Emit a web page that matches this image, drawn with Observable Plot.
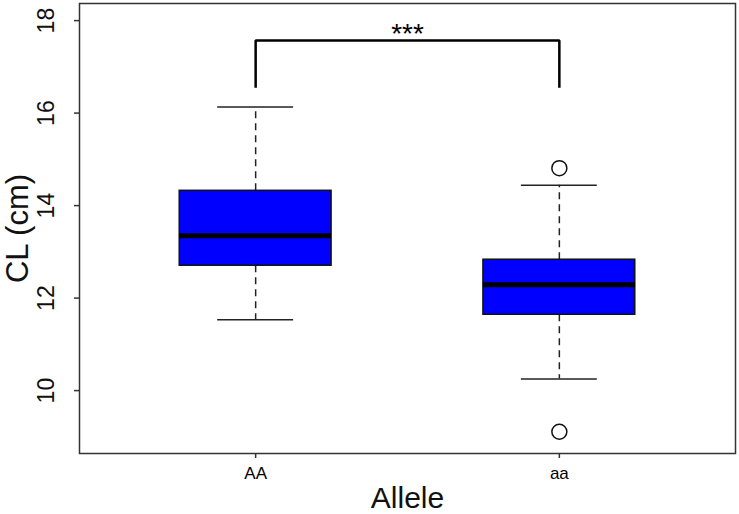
<!DOCTYPE html>
<html>
<head>
<meta charset="utf-8">
<script src="https://cdn.jsdelivr.net/npm/d3@7"></script>
<script src="https://cdn.jsdelivr.net/npm/@observablehq/plot@0.6"></script>
<style>
  html, body { margin: 0; padding: 0; background: #fff; }
  #chart svg { display: block; }
</style>
</head>
<body>
<div id="chart"></div>
<script>
// ---- data ----
const alleles = ["AA", "aa"];
const lowerWhisker = [11.53, 10.25];
const q1 = [12.70, 11.64];
const median = [13.35, 12.29];
const q3 = [14.32, 12.83];
const upperWhisker = [16.13, 14.44];
const outlierAllele = ["aa", "aa"];
const outlierValue = [14.81, 9.11];
const yTicks = [10, 12, 14, 16, 18];
const sigLabel = "***";
const sigTop = 17.57;
const sigBase = 16.55;

// ---- tables built from the arrays ----
const boxes = alleles.map((a, i) => ({
  allele: a, pos: i + 1,
  lo: lowerWhisker[i], q1: q1[i], med: median[i], q3: q3[i], hi: upperWhisker[i]
}));
const outliers = outlierAllele.map((a, i) => ({ pos: alleles.indexOf(a) + 1, value: outlierValue[i] }));
const bracket = [
  { x: 1, y: sigBase }, { x: 1, y: sigTop }, { x: 2, y: sigTop }, { x: 2, y: sigBase }
];

const half = 0.25, cap = 0.125;

const chart = Plot.plot({
  width: 739,
  height: 514,
  marginLeft: 79,
  marginRight: 4,
  marginTop: 3,
  marginBottom: 61,
  style: { fontFamily: "'Liberation Sans', Arial, sans-serif", background: "#fff", color: "#000" },
  x: { type: "linear", domain: [0.42, 2.58], axis: null },
  y: { domain: [8.64, 18.37], axis: null },
  marks: [
    // y axis ticks + rotated labels
    Plot.axisY({ ticks: yTicks, tickSize: 5, tickFormat: () => "", label: null, stroke: "#333", strokeWidth: 1.5 }),
    Plot.text(yTicks, { y: d => d, text: d => String(d), frameAnchor: "left", textAnchor: "middle", dx: -33, rotate: -90, fontSize: 23, fill: "#111" }),
    // x axis ticks + labels
    Plot.axisX({ ticks: [1, 2], tickSize: 5, tickPadding: 8, tickFormat: d => alleles[d - 1], fontSize: 17, label: null, stroke: "#333", strokeWidth: 1.5 }),
    // axis titles
    Plot.text(["Allele"], { frameAnchor: "bottom", textAnchor: "middle", dy: 54, lineAnchor: "bottom", fontSize: 30, fill: "#111" }),
    Plot.text(["CL (cm)"], { frameAnchor: "left", textAnchor: "middle", dx: -61, rotate: -90, fontSize: 31, fill: "#111" }),
    // whiskers (dashed)
    Plot.ruleX(boxes, { x: "pos", y1: "q3", y2: "hi", stroke: "#222", strokeWidth: 1.5, strokeDasharray: "7,5" }),
    Plot.ruleX(boxes, { x: "pos", y1: "q1", y2: "lo", stroke: "#222", strokeWidth: 1.5, strokeDasharray: "7,5" }),
    // whisker caps
    Plot.ruleY(boxes, { y: "hi", x1: d => d.pos - cap, x2: d => d.pos + cap, stroke: "#222", strokeWidth: 1.5 }),
    Plot.ruleY(boxes, { y: "lo", x1: d => d.pos - cap, x2: d => d.pos + cap, stroke: "#222", strokeWidth: 1.5 }),
    // boxes
    Plot.rect(boxes, { x1: d => d.pos - half, x2: d => d.pos + half, y1: "q1", y2: "q3", fill: "#0000FF", stroke: "#111", strokeWidth: 1.5 }),
    // medians
    Plot.ruleY(boxes, { y: "med", x1: d => d.pos - half, x2: d => d.pos + half, stroke: "#000", strokeWidth: 5 }),
    // outliers
    Plot.dot(outliers, { x: "pos", y: "value", r: 7.5, stroke: "#111", fill: "#fff", strokeWidth: 1.5 }),
    // significance bracket
    Plot.line(bracket, { x: "x", y: "y", stroke: "#000", strokeWidth: 2.5, strokeLinejoin: "miter", strokeLinecap: "butt" }),
    Plot.text([sigLabel], { x: () => 1.5, y: () => sigTop, text: d => d, lineAnchor: "bottom", dy: 3, fontSize: 28, fill: "#000" }),
    // plot frame
    Plot.frame({ stroke: "#333", strokeWidth: 1.5 })
  ]
});
document.getElementById("chart").appendChild(chart);
</script>
</body>
</html>
